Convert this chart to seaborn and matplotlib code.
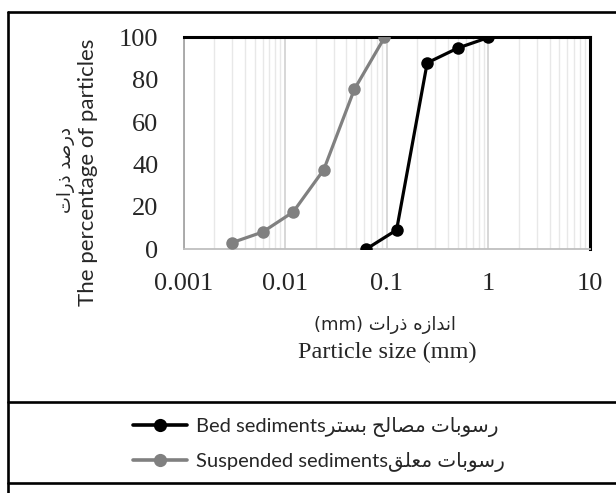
import matplotlib
matplotlib.use("Agg")
import matplotlib.pyplot as plt
from matplotlib.lines import Line2D
from matplotlib.ticker import LogLocator, NullFormatter, FixedLocator, FuncFormatter
import seaborn as sns
import pandas as pd

# ---- data ----
bed_size = [0.063, 0.125, 0.25, 0.5, 1.0]
bed_pct = [0, 9, 88, 95, 100]
susp_size = [0.003, 0.006, 0.012, 0.024, 0.048, 0.095]
susp_pct = [3, 8, 17.5, 37.5, 75.5, 100]

x_ticks = [0.001, 0.01, 0.1, 1, 10]
x_tick_labels = ["0.001", "0.01", "0.1", "1", "10"]
y_ticks = [0, 20, 40, 60, 80, 100]

# Persian text in Arabic presentation forms (logical order), reversed for display
fa_bed = "\uFEAD\uFEB3\uFEEE\uFE91\uFE8E\uFE95 \uFEE3\uFEBC\uFE8E\uFEDF\uFEA2 \uFE91\uFEB4\uFE98\uFEAE"
fa_susp = "\uFEAD\uFEB3\uFEEE\uFE91\uFE8E\uFE95 \uFEE3\uFECC\uFEE0\uFED6"
fa_size = "\uFE8D\uFEE7\uFEAA\uFE8D\uFEAF\uFEE9 \uFEAB\uFEAD\uFE8D\uFE95"
fa_pct = "\uFEA9\uFEAD\uFEBB\uFEAA \uFEAB\uFEAD\uFE8D\uFE95"

bed_label = "Bed sediments" + fa_bed[::-1]
susp_label = "Suspended sediments" + fa_susp[::-1]
xlabel_fa = "(mm) " + fa_size[::-1]
xlabel_en = "Particle size (mm)"
ylabel_fa = fa_pct[::-1]
ylabel_en = "The percentage of particles"

bed_color = "#000000"
susp_color = "#808080"

sns.set_style("white")
plt.rcParams["font.family"] = ["Lato", "DejaVu Sans"]

W, H = 616, 493
fig = plt.figure(figsize=(W / 100, H / 100), dpi=100)
ax = fig.add_axes([183.5 / W, 1 - 249 / H, (590 - 183.5) / W, (249 - 37.5) / H])

bed_df = pd.DataFrame({"size": bed_size, "pct": bed_pct})
susp_df = pd.DataFrame({"size": susp_size, "pct": susp_pct})

sns.lineplot(data=susp_df, x="size", y="pct", ax=ax, color=susp_color, lw=2.3,
             marker="o", markersize=9, markeredgewidth=0, sort=False,
             estimator=None, label=susp_label, zorder=3)
sns.lineplot(data=bed_df, x="size", y="pct", ax=ax, color=bed_color, lw=2.3,
             marker="o", markersize=9, markeredgewidth=0, sort=False,
             estimator=None, label=bed_label, zorder=4)

ax.set_xscale("log")
ax.set_xlim(0.001, 10)
ax.set_ylim(0, 100)
ax.set_xlabel("")
ax.set_ylabel("")

ax.xaxis.set_major_locator(FixedLocator(x_ticks))
ax.xaxis.set_major_formatter(FuncFormatter(lambda v, p: x_tick_labels[x_ticks.index(v)] if v in x_ticks else ""))
ax.xaxis.set_minor_locator(LogLocator(base=10, subs=range(2, 10)))
ax.xaxis.set_minor_formatter(NullFormatter())
ax.grid(True, which="major", axis="x", color="#d4d4d4", lw=1.3, zorder=0)
ax.grid(True, which="minor", axis="x", color="#e8e8e8", lw=1.0, zorder=0)
ax.grid(False, axis="y")
ax.set_axisbelow(True)

ax.set_yticks(y_ticks)
ax.set_yticks([10, 30, 50, 70, 90], minor=True)

serif = "Liberation Serif"
ax.tick_params(axis="x", which="both", length=0, pad=17, labelsize=19)
ax.tick_params(axis="y", which="major", direction="out", length=6, width=1.2,
               color="#a6a6a6", pad=12, labelsize=19)
ax.tick_params(axis="y", which="minor", direction="in", length=5, width=1.2,
               color="#a6a6a6")
for lab in ax.get_xticklabels() + ax.get_yticklabels():
    lab.set_fontfamily(serif)

for side in ["top", "right"]:
    ax.spines[side].set_color("black")
    ax.spines[side].set_linewidth(2.2)
ax.spines["left"].set_color("#a6a6a6")
ax.spines["left"].set_linewidth(1.3)
ax.spines["bottom"].set_color("#bfbfbf")
ax.spines["bottom"].set_linewidth(1.3)

ax.get_legend().remove()

# axis titles
fig.text(385 / W, 1 - 325 / H, xlabel_fa, ha="center", va="center",
         fontsize=13, family=["DejaVu Sans"])
fig.text(387 / W, 1 - 352 / H, xlabel_en, ha="center", va="center",
         fontsize=17.5, family=[serif])
fig.text(88 / W, 1 - 172 / H, ylabel_en, ha="center", va="center",
         rotation=90, fontsize=16, family=["Lato", "DejaVu Sans"])
fig.text(66 / W, 1 - 170 / H, ylabel_fa, ha="center", va="center",
         rotation=90, fontsize=13, family=["DejaVu Sans"])

# legend
h_bed = Line2D([], [], color=bed_color, lw=2.6, marker="o", markersize=9.5, markeredgewidth=0)
h_susp = Line2D([], [], color=susp_color, lw=2.6, marker="o", markersize=9.5, markeredgewidth=0)
fig.legend([h_bed, h_susp], [bed_label, susp_label], loc="center left",
           bbox_to_anchor=(133 / W, 1 - 444.5 / H), frameon=False,
           prop={"family": ["Lato", "DejaVu Sans"], "size": 14.5},
           handlelength=2.7, handletextpad=0.45, labelspacing=0.75,
           borderpad=0, borderaxespad=0)

# outer frame lines
lw = 1.9
fig.add_artist(Line2D([8 / W, 1], [1 - 12 / H, 1 - 12 / H], color="black", lw=lw, transform=fig.transFigure))
fig.add_artist(Line2D([8 / W, 8 / W], [1 - 12 / H, 0], color="black", lw=lw, transform=fig.transFigure))
fig.add_artist(Line2D([8 / W, 1], [1 - 402 / H, 1 - 402 / H], color="black", lw=lw, transform=fig.transFigure))
fig.add_artist(Line2D([8 / W, 1], [1 - 483 / H, 1 - 483 / H], color="black", lw=lw, transform=fig.transFigure))

fig.savefig("out.png", dpi=100)
